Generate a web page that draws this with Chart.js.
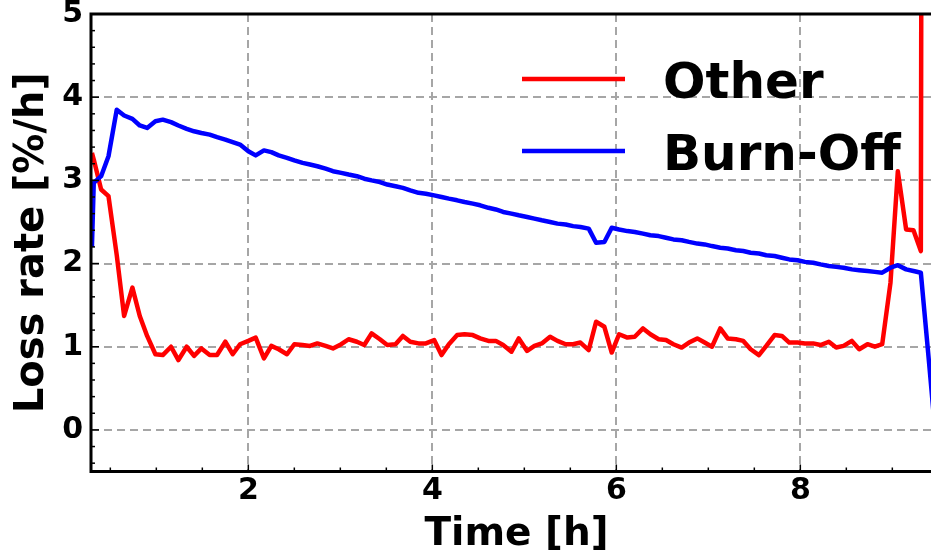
<!DOCTYPE html>
<html>
<head>
<meta charset="utf-8">
<script src="https://cdn.jsdelivr.net/npm/chart.js@4.4.1/dist/chart.umd.min.js"></script>
<style>
  html, body { margin: 0; padding: 0; background: #fff; overflow: hidden; }
  #wrap { width: 950px; height: 553px; }
</style>
</head>
<body>
<div id="wrap"><canvas id="grafico"></canvas></div>
<script>
// time of each sample [h]
const times = [0.30, 0.32,
  0.40, 0.48, 0.57, 0.65, 0.74, 0.82, 0.90, 0.99, 1.07, 1.16, 1.24, 1.33, 1.41, 1.49, 1.58, 1.66, 1.75, 1.83, 1.91, 2.00, 2.08,
  2.17, 2.25, 2.33, 2.42, 2.50, 2.59, 2.67, 2.75, 2.84, 2.92, 3.01, 3.09, 3.18, 3.26, 3.34, 3.43, 3.51, 3.60, 3.68, 3.76, 3.85,
  3.93, 4.02, 4.10, 4.18, 4.27, 4.35, 4.44, 4.52, 4.61, 4.69, 4.77, 4.86, 4.94, 5.03, 5.11, 5.19, 5.28, 5.36, 5.45, 5.53, 5.61,
  5.70, 5.78, 5.87, 5.95, 6.03, 6.12, 6.20, 6.29, 6.37, 6.46, 6.54, 6.62, 6.71, 6.79, 6.88, 6.96, 7.04, 7.13, 7.21, 7.30, 7.38,
  7.46, 7.55, 7.63, 7.72, 7.80, 7.88, 7.97, 8.05, 8.14, 8.22, 8.31, 8.39, 8.47, 8.56, 8.64, 8.73, 8.81, 8.89, 8.98, 9.06, 9.15, 9.23, 9.31,
  9.40, 9.48]

// loss rate [%/h]
const other = [3.33, 3.25,
  2.89, 2.81, 2.10, 1.37, 1.71, 1.37, 1.13, 0.91, 0.90, 1.00, 0.84, 1.00, 0.89, 0.98, 0.90, 0.90, 1.06, 0.91, 1.03, 1.07, 1.11,
  0.86, 1.01, 0.97, 0.91, 1.03, 1.02, 1.01, 1.04, 1.01, 0.98, 1.03, 1.09, 1.06, 1.02, 1.16, 1.09, 1.02, 1.03, 1.13, 1.06, 1.04,
  1.04, 1.08, 0.90, 1.03, 1.14, 1.15, 1.14, 1.10, 1.07, 1.07, 1.02, 0.94, 1.10, 0.95, 1.01, 1.04, 1.12, 1.07, 1.03, 1.03, 1.05,
  0.96, 1.30, 1.24, 0.93, 1.15, 1.11, 1.12, 1.22, 1.15, 1.09, 1.08, 1.03, 0.99, 1.05, 1.10, 1.05, 1.00, 1.22, 1.10, 1.09, 1.07,
  0.97, 0.90, 1.01, 1.14, 1.13, 1.05, 1.05, 1.04, 1.04, 1.02, 1.06, 0.99, 1.01, 1.07, 0.97, 1.03, 1.00, 1.03, 1.77, 3.11, 2.41, 2.40, 2.15,
  60, 60]

const burnOff = [2.20, 2.97,
  3.05, 3.29, 3.85, 3.78, 3.74, 3.66, 3.63, 3.71, 3.73, 3.70, 3.66, 3.62, 3.59, 3.57, 3.55, 3.52, 3.49, 3.46, 3.43, 3.35, 3.30,
  3.36, 3.34, 3.30, 3.27, 3.24, 3.21, 3.19, 3.17, 3.14, 3.11, 3.09, 3.07, 3.05, 3.02, 3.00, 2.98, 2.95, 2.93, 2.91, 2.88, 2.85,
  2.84, 2.82, 2.80, 2.78, 2.76, 2.74, 2.72, 2.70, 2.67, 2.65, 2.62, 2.60, 2.58, 2.56, 2.54, 2.52, 2.50, 2.48, 2.47, 2.45, 2.44,
  2.42, 2.25, 2.26, 2.43, 2.41, 2.39, 2.38, 2.36, 2.34, 2.33, 2.31, 2.29, 2.28, 2.26, 2.24, 2.23, 2.21, 2.19, 2.18, 2.16, 2.15,
  2.13, 2.12, 2.10, 2.09, 2.07, 2.05, 2.04, 2.02, 2.01, 1.99, 1.97, 1.96, 1.95, 1.93, 1.92, 1.91, 1.90, 1.89, 1.95, 1.98, 1.93, 1.91, 1.89,
  0.80, -0.20]

const xTicks = [2, 4, 6, 8]
const yTicks = [0, 1, 2, 3, 4, 5]

const fonte = 'DejaVu Sans'

// frame, inward ticks and the legend inside the plot
const moldura = {
  id: 'moldura',
  afterDraw(chart) {
    const { ctx, chartArea: a, scales: { x, y } } = chart
    ctx.save()
    ctx.strokeStyle = '#000'
    ctx.lineWidth = 1.5
    for (let v = 0.5; v < x.max; v += 0.5) {
      const px = x.getPixelForValue(v)
      const len = Number.isInteger(v / 2) ? 7 : 4
      ctx.beginPath()
      ctx.moveTo(px, a.bottom)
      ctx.lineTo(px, a.bottom - len)
      ctx.stroke()
    }
    for (let i = -2; i <= 25; i++) {
      const v = i / 5
      if (v < y.min || v > y.max) continue
      const py = y.getPixelForValue(v)
      const len = i % 5 === 0 ? 8 : 4
      ctx.beginPath()
      ctx.moveTo(a.left, py)
      ctx.lineTo(a.left + len, py)
      ctx.stroke()
    }
    ctx.lineWidth = 3
    ctx.strokeRect(a.left, a.top, a.right - a.left, a.bottom - a.top)

    // legend
    ctx.font = 'bold 50px "' + fonte + '"'
    ctx.textBaseline = 'alphabetic'
    ctx.textAlign = 'left'
    const itens = [chart.data.datasets[0], chart.data.datasets[1]]
    itens.forEach((ds, i) => {
      const base = 98 + i * 72
      ctx.strokeStyle = ds.borderColor
      ctx.lineWidth = 4.5
      ctx.beginPath()
      ctx.moveTo(522, base - 19)
      ctx.lineTo(625, base - 19)
      ctx.stroke()
      ctx.fillStyle = '#000'
      ctx.fillText(ds.label, 663, base)
    })
    ctx.restore()
  }
}

const elementoGrafico = document.querySelector('#grafico')

const grafico = new Chart(elementoGrafico, {
  type: 'line',
  data: {
    datasets: [{
      label: 'Other',
      data: times.map((t, i) => ({ x: t, y: other[i] })),
      borderColor: '#ff0000',
      borderWidth: 4.5,
      pointRadius: 0,
      tension: 0,
      borderJoinStyle: 'round',
      order: 1
    }, {
      label: 'Burn-Off',
      data: times.map((t, i) => ({ x: t, y: burnOff[i] })),
      borderColor: '#0000ff',
      borderWidth: 4.5,
      pointRadius: 0,
      tension: 0,
      borderJoinStyle: 'round',
      order: 0
    }]
  },
  options: {
    responsive: true,
    maintainAspectRatio: false,
    devicePixelRatio: 1,
    animation: false,
    layout: { padding: { top: 14, right: 8, left: 0, bottom: 0 } },
    plugins: { legend: { display: false }, tooltip: { enabled: false } },
    scales: {
      x: {
        type: 'linear',
        min: 0.29,
        max: 9.54,
        afterBuildTicks: scale => { scale.ticks = xTicks.map(v => ({ value: v })) },
        afterFit: scale => {
          scale.height = 81.5
          scale.paddingLeft = 0
          scale.paddingRight = 0
        },
        grid: { color: '#a6a6a6', lineWidth: 2, drawTicks: false },
        border: { display: false, dash: [8, 5] },
        ticks: {
          color: '#000',
          padding: 2,
          maxRotation: 0,
          font: { family: fonte, size: 30, weight: 'bold', lineHeight: 1.2 }
        },
        title: {
          display: true,
          text: 'Time [h]',
          color: '#000',
          padding: { top: 0, bottom: 0 },
          font: { family: fonte, size: 39, weight: 'bold', lineHeight: 0.93 }
        }
      },
      y: {
        min: -0.5,
        max: 5,
        afterBuildTicks: scale => { scale.ticks = yTicks.map(v => ({ value: v })) },
        afterFit: scale => {
          scale.width = 91
          scale.paddingTop = 0
          scale.paddingBottom = 0
        },
        grid: { color: '#a6a6a6', lineWidth: 2, drawTicks: false },
        border: { display: false, dash: [8, 5] },
        ticks: {
          color: '#000',
          padding: 8,
          font: { family: fonte, size: 30, weight: 'bold' }
        },
        title: {
          display: true,
          text: 'Loss rate [%/h]',
          color: '#000',
          padding: { top: 13, bottom: 0 },
          font: { family: fonte, size: 40, weight: 'bold', lineHeight: 1 }
        }
      }
    }
  },
  plugins: [moldura]
})
</script>
</body>
</html>
